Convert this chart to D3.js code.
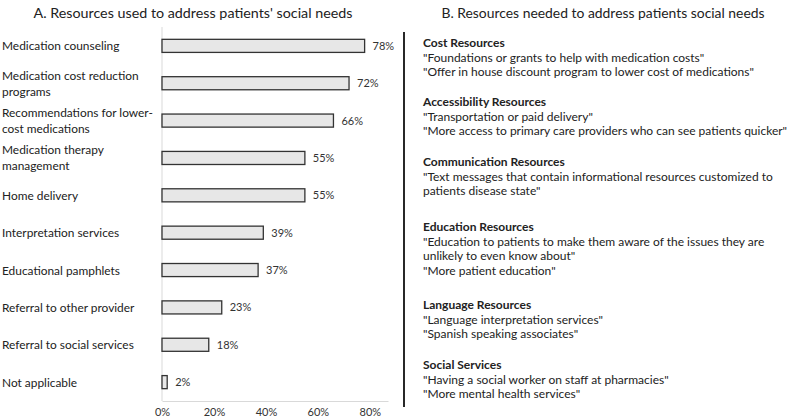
<!DOCTYPE html>
<html>
<head>
<meta charset="utf-8">
<script src="https://cdn.jsdelivr.net/npm/d3@7"></script>
<style>
  body { margin: 0; background: #fff; }
  svg { font-family: Lato, "Open Sans", sans-serif; }
</style>
</head>
<body>
<div id="chart"></div>
<script>
// panel A data
const categories = [
    ["Medication counseling"],
    ["Medication cost reduction", "programs"],
    ["Recommendations for lower-", "cost medications"],
    ["Medication therapy", "management"],
    ["Home delivery"],
    ["Interpretation services"],
    ["Educational pamphlets"],
    ["Referral to other provider"],
    ["Referral to social services"],
    ["Not applicable"]
];
const values = [78, 72, 66, 55, 55, 39, 37, 23, 18, 2];
const tickValues = [0, 20, 40, 60, 80];

// panel B data
const headings = ["Cost Resources", "Accessibility Resources", "Communication Resources",
    "Education Resources", "Language Resources", "Social Services"];
const quotes = [
    ['"Foundations or grants to help with medication costs"',
     '"Offer in house discount program to lower cost of medications"'],
    ['"Transportation or paid delivery"',
     '"More access to primary care providers who can see patients quicker"'],
    ['"Text messages that contain informational resources customized to',
     'patients disease state"'],
    ['"Education to patients to make them aware of the issues they are',
     'unlikely to even know about"',
     '"More patient education"'],
    ['"Language interpretation services"',
     '"Spanish speaking associates"'],
    ['"Having a social worker on staff at pharmacies"',
     '"More mental health services"']
];

const W = 787, H = 420;
const svg = d3.select("#chart").append("svg")
    .attr("width", W)
    .attr("height", H);

//---- panel A
const x = d3.scaleLinear().domain([0, 87]).range([162, 388]);
const y = d3.scaleBand().domain(d3.range(values.length)).range([27, 401]).paddingInner(0.65).paddingOuter(0.33);

svg.append("text")
    .attr("x", 193).attr("y", 18)
    .attr("text-anchor", "middle")
    .attr("font-size", 14.3)
    .attr("fill", "#222")
    .text("A. Resources used to address patients' social needs");

// axis lines
svg.append("line")
    .attr("x1", x(0)).attr("x2", x(0))
    .attr("y1", 27).attr("y2", 401)
    .attr("stroke", "#d9d9d9");

const xAxis = svg.append("g")
    .attr("transform", "translate(0,401)")
    .call(d3.axisBottom(x).tickValues(tickValues).tickSize(0).tickPadding(7).tickFormat(d => d + "%"));
xAxis.select(".domain").attr("stroke", "#d9d9d9");
xAxis.selectAll("text").attr("font-size", 11).attr("fill", "#333").attr("font-family", "Lato, sans-serif");

svg.append("g")
    .selectAll("rect")
    .data(values)
    .join("rect")
    .attr("x", x(0))
    .attr("y", (d, i) => y(i))
    .attr("width", d => x(d) - x(0))
    .attr("height", y.bandwidth())
    .attr("fill", "#e7e7e7")
    .attr("stroke", "#333")
    .attr("stroke-width", 1.3);

svg.append("g")
    .selectAll("text")
    .data(values)
    .join("text")
    .attr("x", d => x(d) + 8)
    .attr("y", (d, i) => y(i) + y.bandwidth() / 2 + 4)
    .attr("font-size", 11)
    .attr("fill", "#333")
    .text(d => d + "%");

// category labels
const lineH = 16;
const catLabels = svg.append("g")
    .selectAll("text")
    .data(categories)
    .join("text")
    .attr("font-size", 11.9)
    .attr("fill", "#222");
catLabels.each(function(lines, i) {
    const cy = y(i) + y.bandwidth() / 2;
    const y0 = cy - (lines.length - 1) * lineH / 2 + 4.5;
    d3.select(this).selectAll("tspan")
        .data(lines)
        .join("tspan")
        .attr("x", 2)
        .attr("y", (d, j) => y0 + j * lineH)
        .text(d => d);
});

//---- panel B
svg.append("text")
    .attr("x", 603).attr("y", 18)
    .attr("text-anchor", "middle")
    .attr("font-size", 13.9)
    .attr("fill", "#222")
    .text("B. Resources needed to address patients social needs");

svg.append("line")
    .attr("x1", 404).attr("x2", 404)
    .attr("y1", 32).attr("y2", 407)
    .attr("stroke", "#111")
    .attr("stroke-width", 1.8);

// top of each group (center of heading line)
const groupTop = [43, 102, 162, 227, 305, 365];
const qLine = 14.7;

const groups = svg.append("g")
    .selectAll("g")
    .data(headings)
    .join("g")
    .attr("transform", (d, i) => `translate(423,${groupTop[i] + 4})`);

groups.append("text")
    .attr("font-size", 12)
    .attr("font-weight", "bold")
    .attr("fill", "#222")
    .text(d => d);

groups.each(function(d, i) {
    d3.select(this).selectAll("text.q")
        .data(quotes[i])
        .join("text")
        .attr("class", "q")
        .attr("y", (q, j) => (j + 1) * qLine)
        .attr("font-size", 12)
        .attr("fill", "#222")
        .text(q => q);
});
</script>
</body>
</html>
